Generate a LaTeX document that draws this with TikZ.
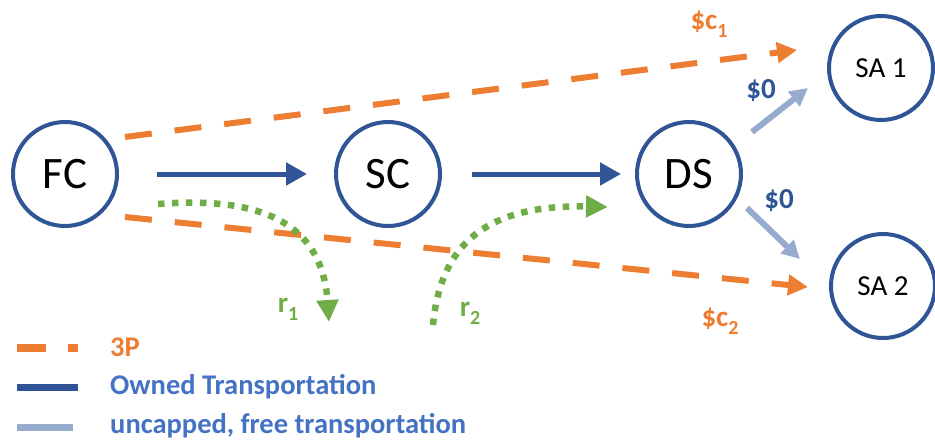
\documentclass[tikz,border=0pt]{standalone}
\usepackage{fontspec}
\setmainfont{Carlito}
\usetikzlibrary{arrows.meta}
\definecolor{ora}{HTML}{ED7D31}
\definecolor{navy}{HTML}{2F5597}
\definecolor{lblue}{HTML}{97ABCF}
\definecolor{grn}{HTML}{70AD47}
\definecolor{legblue}{HTML}{4472C4}
% lowered index in the text font
\newcommand{\lowidx}[1]{\raisebox{-0.28em}{\fontsize{20}{20}\selectfont #1}}
\begin{document}
\begin{tikzpicture}[x=1pt,y=-1pt,
  site/.style={circle,draw=navy,line width=4pt,minimum size=104pt,inner sep=0pt},
  bigtxt/.style={font=\fontsize{45}{45}\selectfont},
  smalltxt/.style={font=\fontsize{29}{29}\selectfont},
  lbl/.style={font=\bfseries\fontsize{29}{29}\selectfont,inner sep=0pt},
  owned/.style={draw=navy,line width=5pt,-{Triangle[length=21pt,width=22pt]}},
  thirdp/.style={draw=ora,line width=6pt,dash pattern=on 27pt off 23pt,-{Triangle[length=20pt,width=20pt]}},
  freeflow/.style={draw=lblue,line width=6pt,-{Triangle[length=18pt,width=18pt]}},
  reroute/.style={draw=grn,line width=6.5pt,dash pattern=on 6.5pt off 7.5pt,-{Triangle[length=22pt,width=21pt]}},
  legtxt/.style={font=\bfseries\fontsize{28.5}{28.5}\selectfont,anchor=west,inner sep=0pt}]
\useasboundingbox (0,0) rectangle (935,444);

% facilities
\node[site,bigtxt] (FC) at (65,174) {FC};
\node[site,bigtxt] (SC) at (388,174) {SC};
\node[site,bigtxt] (DS) at (689,174) {DS};
\node[site,smalltxt] (SA1) at (881,68) {SA 1};
\node[site,smalltxt] (SA2) at (883,286) {SA 2};

% connector end points
\coordinate (p1s) at (125,137);
\coordinate (p1e) at (797,50);
\coordinate (p2s) at (125,217);
\coordinate (p2e) at (808,287);
\coordinate (f1s) at (752,132);
\coordinate (f1e) at (808,88);
\coordinate (f2s) at (747,208);
\coordinate (f2e) at (800,259);
\coordinate (r1s) at (158,204);
\coordinate (r1e) at (329,322);
\coordinate (r2s) at (433,325);
\coordinate (r2e) at (608,207);

% third-party lanes
\draw[thirdp] (p1s) -- (p1e);
\draw[thirdp] (p2s) -- (p2e);

% owned transportation
\draw[owned,shorten <=38pt,shorten >=27pt] (FC) -- (SC);
\draw[owned,shorten <=30pt,shorten >=14pt] (SC) -- (DS);

% free last-mile links
\draw[freeflow] (f1s) -- (f1e);
\draw[freeflow] (f2s) -- (f2e);

% reroute flows
\draw[reroute] (r1s) .. controls (260,196) and (322,222) .. (r1e);
\draw[reroute] (r2s) .. controls (440,250) and (480,204) .. (r2e);

% labels
\node[lbl,text=ora] (c1) at (709,24) {\$c\lowidx{1}};
\node[lbl,text=ora] (c2) at (720,321) {\$c\lowidx{2}};
\node[lbl,text=navy] (z1) at (761,91) {\$0};
\node[lbl,text=navy] (z2) at (779,201) {\$0};
\node[lbl,text=grn] (l1) at (288,309) {r\lowidx{1}};
\node[lbl,text=grn] (l2) at (470,313) {r\lowidx{2}};

% legend
\coordinate (k1a) at (17,348);  \coordinate (k1b) at (78,348);
\coordinate (k2a) at (17,387);  \coordinate (k2b) at (78,387);
\coordinate (k3a) at (17,427);  \coordinate (k3b) at (73,427);
\draw[ora,line width=8pt,dash pattern=on 29pt off 22pt] (k1a) -- (k1b);
\draw[navy,line width=7pt] (k2a) -- (k2b);
\draw[lblue,line width=7pt] (k3a) -- (k3b);
\node[legtxt,text=ora] (t1) at (110,347) {3P};
\node[legtxt,text=legblue] (t2) at (110,387) {Owned Transportation};
\node[legtxt,text=legblue] (t3) at (110,426) {uncapped, free transportation};
\end{tikzpicture}
\end{document}
